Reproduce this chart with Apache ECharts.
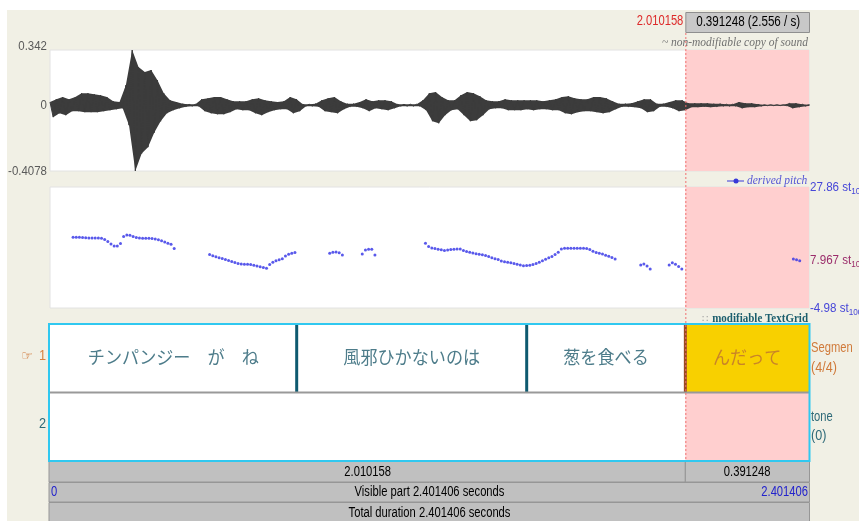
<!DOCTYPE html>
<html><head><meta charset="utf-8">
<script src="https://cdn.jsdelivr.net/npm/echarts@6/dist/echarts.min.js"></script>
<style>
html,body{margin:0;padding:0;background:#fff;}
#c{width:859px;height:521px;background:#f1f0e5;box-shadow:inset 7px 10px 0 #fff;}
</style>
</head><body><div id="c"></div>
<script>
// ---------- data ----------
const totalDuration = 2.401406;
const cursorTime = 2.010158;
const selStart = 2.010158;
const selEnd = 2.401406;

// waveform envelope (max / min per 0.02 s bin)
const waveStep = 0.02;
const waveMax = [0.019,0.037,0.050,0.037,0.050,0.074,0.074,0.068,0.062,0.050,
 0.025,0.019,0.124,0.342,0.236,0.205,0.218,0.155,0.074,0.031,
 0.019,0.009,0.006,0.006,0.037,0.043,0.050,0.050,0.037,0.025,
 0.025,0.025,0.037,0.043,0.031,0.025,0.019,0.025,0.050,0.037,
 0.006,0.006,0.009,0.031,0.043,0.050,0.025,0.009,0.009,0.019,
 0.037,0.025,0.031,0.031,0.025,0.006,0.006,0.006,0.006,0.031,
 0.074,0.081,0.050,0.031,0.031,0.062,0.081,0.074,0.056,0.031,
 0.025,0.025,0.037,0.031,0.031,0.031,0.031,0.031,0.025,0.031,
 0.037,0.050,0.056,0.043,0.037,0.037,0.050,0.050,0.043,0.025,
 0.009,0.009,0.012,0.025,0.037,0.037,0.009,0.009,0.019,0.031,
 0.031,0.012,0.012,0.012,0.012,0.009,0.009,0.006,0.006,0.019,
 0.012,0.012,0.006,0.003,0.003,0.003,0.003,0.012,0.012,0.006,
 0.003];
const waveMin = [-0.074,-0.050,-0.062,-0.037,-0.037,-0.043,-0.043,-0.043,-0.037,-0.031,
 -0.025,-0.019,-0.124,-0.4078,-0.300,-0.260,-0.170,-0.100,-0.050,-0.031,
 -0.019,-0.009,-0.006,-0.006,-0.037,-0.050,-0.056,-0.056,-0.043,-0.025,
 -0.031,-0.031,-0.050,-0.062,-0.043,-0.031,-0.025,-0.025,-0.050,-0.037,
 -0.006,-0.006,-0.009,-0.037,-0.043,-0.050,-0.025,-0.009,-0.009,-0.019,
 -0.037,-0.019,-0.025,-0.031,-0.019,-0.006,-0.006,-0.006,-0.006,-0.031,
 -0.099,-0.112,-0.062,-0.031,-0.025,-0.062,-0.099,-0.093,-0.062,-0.025,
 -0.019,-0.019,-0.031,-0.031,-0.031,-0.025,-0.031,-0.025,-0.025,-0.031,
 -0.031,-0.050,-0.056,-0.043,-0.037,-0.037,-0.043,-0.050,-0.043,-0.025,
 -0.009,-0.009,-0.012,-0.019,-0.043,-0.037,-0.009,-0.009,-0.019,-0.037,
 -0.031,-0.012,-0.012,-0.009,-0.012,-0.009,-0.006,-0.006,-0.006,-0.019,
 -0.012,-0.012,-0.006,-0.003,-0.003,-0.003,-0.003,-0.019,-0.012,-0.006,
 -0.003];
const waveTicks = [0.342, 0, -0.4078];
const waveTickLabels = ['0.342', '0', '-0.4078'];

// pitch (semitones re 100 Hz), voiced stretches, 0.01 s frames
const pitchStep = 0.01;
const pitchStarts = [0.073, 0.505, 0.885, 0.988, 1.188, 1.869, 1.959, 2.352];
const pitchA = [14.21,14.21,14.21,14.15,14.07,14.02,14.02,14.02,14.02,13.94,13.61,13.07,12.39,11.85,11.85,12.53,14.43,14.83,14.75,14.43,14.15,14.02,13.94,13.94,13.94,13.88,13.75,13.53,13.26,12.93,12.61,12.31,11.2];
const pitchB = [9.54,9.19,8.92,8.64,8.43,8.18,7.88,7.61,7.34,7.12,6.96,6.88,6.88,6.85,6.64,6.42,6.20,5.98,5.79,6.83,7.42,7.83,8.10,8.37,9.13,9.59,9.87,10.08];
const pitchC = [9.87,10.14,10.22,10.03,9.40];
const pitchD = [9.68,10.76,10.95,10.95,9.40];
const pitchE = [12.58,11.71,11.33,11.14,10.98,10.82,10.63,10.76,10.90,10.95,11.03,11.03,10.65,10.35,10.16,9.95,9.73,9.62,9.49,9.27,9.00,8.67,8.40,8.16,7.75,7.56,7.42,7.32,7.07,6.88,6.66,6.50,6.53,6.64,6.80,7.10,7.45,7.86,8.24,8.64,9.00,9.51,10.14,11.03,11.22,11.22,11.22,11.22,11.22,11.22,11.22,11.17,10.90,10.44,10.08,9.87,9.68,9.35,9.05,8.73,8.32];
const pitchF = [6.69,6.96,6.42,5.61];
const pitchG = [6.69,7.29,6.91,6.28,5.61];
const pitchH = [8.32,8.13,7.86];
const pitchSegments = [pitchA, pitchB, pitchC, pitchD, pitchE, pitchF, pitchG, pitchH];
const pitchTicks = [27.86, 7.967, -4.98];
const pitchTickLabels = ['27.86 st', '7.967 st', '-4.98 st'];

// TextGrid
const tier1Bounds = [0, 0.7805, 1.5082, 2.010158, 2.401406];
const tier1Labels = ['チンパンジー　が　ね', '風邪ひかないのは', '葱を食べる', 'んだって'];
const selectedInterval = 3;
const tierNames = ['Segmen', 'tone'];
const tierCounts = ['(4/4)', '(0)'];

// ---------- build ----------
const waveData = [];
waveMax.forEach((mx, i) => {
  waveData.push([i * waveStep, mx]);
  waveData.push([i * waveStep + waveStep / 2, waveMin[i]]);
});
const pitchData = [];
pitchSegments.forEach((seg, s) => seg.forEach((v, k) => pitchData.push([pitchStarts[s] + k * pitchStep, v])));
const tier1Data = tier1Labels.map((l, i) => [tier1Bounds[i], tier1Bounds[i + 1], 0]);
const boundaryData = tier1Bounds.slice(1, -1).map(b => [b, 0]);

const SANS = '"Liberation Sans", Arial, sans-serif';
const SERIF = '"Liberation Serif", "Times New Roman", serif';
const JP = '"Noto Sans CJK JP", sans-serif';
const PINK = '#ffcfcf';
const WAVE = '#3c3c3c';

function selRect(params, api) {
  const cs = params.coordSys;
  const x0 = api.coord([api.value(0), 0])[0];
  const x1 = api.coord([api.value(1), 0])[0];
  return { type: 'rect', shape: { x: x0, y: cs.y, width: x1 - x0, height: cs.height }, style: { fill: PINK } };
}

const chart = echarts.init(document.getElementById('c'), null, { renderer: 'canvas' });
const option = {
  animation: false,
  grid: [
    { left: 50, right: 50, top: 50, height: 121, show: true, backgroundColor: '#fff', borderColor: '#e2e2e2', borderWidth: 1 },
    { left: 50, right: 50, top: 187, height: 121, show: true, backgroundColor: '#fff', borderColor: '#e2e2e2', borderWidth: 1 },
    { left: 50, right: 50, top: 324, height: 137, show: false }
  ],
  xAxis: [0, 1, 2].map(i => ({ gridIndex: i, type: 'value', min: 0, max: totalDuration, show: false })),
  yAxis: [
    { gridIndex: 0, type: 'value', min: -0.4078, max: 0.342, show: false },
    { gridIndex: 1, type: 'value', min: -4.98, max: 27.86, show: false },
    { gridIndex: 2, type: 'value', min: 0, max: 2, inverse: true, show: false }
  ],
  series: [
    { type: 'custom', xAxisIndex: 0, yAxisIndex: 0, data: [[selStart, selEnd]], renderItem: selRect, z: 1, silent: true },
    { type: 'custom', xAxisIndex: 0, yAxisIndex: 0, data: [[0]], z: 2, silent: true, clip: true,
      renderItem(params, api) {
        const pts = [];
        waveMax.forEach((v, i) => pts.push(api.coord([i * waveStep, v])));
        for (let i = waveMin.length - 1; i >= 0; i--) pts.push(api.coord([i * waveStep + waveStep / 2, waveMin[i]]));
        return { type: 'polygon', shape: { points: pts }, style: { fill: WAVE } };
      } },
    { type: 'line', xAxisIndex: 0, yAxisIndex: 0, data: waveData, symbol: 'none', z: 3, silent: true,
      lineStyle: { color: WAVE, width: 1 } },
    { type: 'custom', xAxisIndex: 1, yAxisIndex: 1, data: [[selStart, selEnd]], renderItem: selRect, z: 1, silent: true },
    { type: 'scatter', xAxisIndex: 1, yAxisIndex: 1, data: pitchData, symbol: 'circle', symbolSize: 3, z: 3, silent: true,
      itemStyle: { color: '#3030e6' } },
    { type: 'custom', xAxisIndex: 2, yAxisIndex: 2, data: tier1Data, z: 3, silent: true,
      renderItem(params, api) {
        const s = api.coord([api.value(0), api.value(2)]);
        const e = api.coord([api.value(1), api.value(2) + 1]);
        const sel = params.dataIndex === selectedInterval;
        return { type: 'group', children: [
          { type: 'rect', shape: { x: s[0], y: s[1], width: e[0] - s[0], height: e[1] - s[1] }, style: { fill: sel ? '#f8d000' : '#fff' } },
          { type: 'text', x: (s[0] + e[0]) / 2, y: (s[1] + e[1]) / 2 - 1, scaleX: 0.95,
            style: { text: tier1Labels[params.dataIndex], fill: sel ? '#c98428' : '#4d7c8a', font: '18px ' + JP,
              align: 'center', verticalAlign: 'middle', textAlign: 'center', textVerticalAlign: 'middle' } }
        ] };
      } },
    { type: 'custom', xAxisIndex: 2, yAxisIndex: 2, data: [[0, totalDuration, 1]], z: 3, silent: true,
      renderItem(params, api) {
        const s = api.coord([api.value(0), api.value(2)]);
        const e = api.coord([api.value(1), api.value(2) + 1]);
        return { type: 'rect', shape: { x: s[0], y: s[1], width: e[0] - s[0], height: e[1] - s[1] }, style: { fill: '#fff' } };
      } },
    { type: 'custom', xAxisIndex: 2, yAxisIndex: 2, data: [[selStart, selEnd, 1]], z: 4, silent: true,
      renderItem(params, api) {
        const s = api.coord([api.value(0), api.value(2)]);
        const e = api.coord([api.value(1), api.value(2) + 1]);
        return { type: 'rect', shape: { x: s[0], y: s[1], width: e[0] - s[0], height: e[1] - s[1] }, style: { fill: PINK } };
      } },
    { type: 'custom', xAxisIndex: 2, yAxisIndex: 2, data: boundaryData, z: 5, silent: true,
      renderItem(params, api) {
        const a = api.coord([api.value(0), 0]);
        const b = api.coord([api.value(0), 1]);
        const isSel = Math.abs(api.value(0) - cursorTime) < 1e-6;
        return { type: 'line', shape: { x1: a[0], y1: a[1], x2: b[0], y2: b[1] },
          style: { stroke: isSel ? '#9a4a22' : '#0e5a70', lineWidth: 3 } };
      } }
  ]
};
chart.setOption(option);

// ---------- decorations placed through the axes ----------
const P = (g, t, v) => chart.convertToPixel({ gridIndex: g }, [t, v]);
function T(x, y, text, o) {
  o = o || {};
  const al = o.align || 'center', va = o.va || 'middle';
  return { type: 'text', x, y, z: 100, silent: true, scaleX: o.sx != null ? o.sx : 0.8,
    style: { text, fill: o.color || '#000', font: o.font || ('14px ' + SANS),
      align: al, verticalAlign: va, textAlign: al, textVerticalAlign: va, rich: o.rich } };
}
const xs = P(0, 0, 0)[0], xe = P(0, totalDuration, 0)[0], xc = P(0, cursorTime, 0)[0];
const tgTop = P(2, 0, 0)[1], tgMid = P(2, 0, 1)[1], tgBot = P(2, 0, 2)[1];
const g = [];

// top bar
g.push(T(xc - 2, 21, cursorTime.toFixed(6), { align: 'right', color: '#dd2a2a' }));
g.push({ type: 'rect', z: 99, shape: { x: xc + 0.5, y: 12.5, width: xe - xc, height: 20 }, style: { fill: '#c8c8c8', stroke: '#8f8f8f', lineWidth: 1 } });
g.push(T((xc + xe) / 2 + 1, 22.5, (selEnd - selStart).toFixed(6) + ' (' + (1 / (selEnd - selStart)).toFixed(3) + ' / s)', { sx: 0.83 }));
g.push(T(xe - 1, 43, '~ non-modifiable copy of sound', { align: 'right', color: '#707070', font: 'italic 12.5px ' + SERIF, sx: 0.92 }));

// waveform ticks
waveTicks.forEach((v, i) => {
  const y = P(0, 0, v)[1] + (i === 0 ? -4 : 0);
  g.push(T(47, y, waveTickLabels[i], { align: 'right', color: '#5a5a5a', sx: 0.85, font: '13.5px ' + SANS }));
});

// pitch legend + ticks
g.push({ type: 'line', z: 100, shape: { x1: 727, y1: 181, x2: 744, y2: 181 }, style: { stroke: '#3838d8', lineWidth: 1 } });
g.push({ type: 'circle', z: 100, shape: { cx: 736, cy: 181, r: 2.5 }, style: { fill: '#3838d8' } });
g.push(T(747, 181, 'derived pitch', { align: 'left', color: '#5555d5', font: 'italic 12.5px ' + SERIF, sx: 0.92 }));
pitchTicks.forEach((v, i) => {
  const y = P(1, 0, v)[1];
  const col = i === 1 ? '#9b2d6b' : '#4646d8';
  g.push(T(810, y, '{a|' + pitchTickLabels[i] + '}{b|100}', { align: 'left', sx: 0.86, color: col,
    rich: { a: { fontSize: 13.5, fontFamily: 'Liberation Sans', fill: col, color: col, lineHeight: 18, verticalAlign: 'middle' },
            b: { fontSize: 9.5, fontFamily: 'Liberation Sans', fill: col, color: col, lineHeight: 18, verticalAlign: 'bottom' } } }));
});

// TextGrid frame
g.push(T(705, 319, '∷', { color: '#a0a0a0', font: '10px "DejaVu Sans"', sx: 1 }));
g.push(T(xe - 1, 319, 'modifiable TextGrid', { align: 'right', color: '#1d5f6e', font: 'bold 12.5px ' + SERIF, sx: 0.88 }));
g.push({ type: 'line', z: 101, shape: { x1: xs - 1, y1: tgMid, x2: xe, y2: tgMid }, style: { stroke: '#999', lineWidth: 2 } });
g.push({ type: 'rect', z: 102, shape: { x: xs - 1, y: tgTop, width: xe - xs + 1.5, height: tgBot - tgTop }, style: { fill: null, stroke: '#30c8f0', lineWidth: 2 } });
g.push(T(33, (tgTop + tgMid) / 2 - 2, '☞', { align: 'right', color: '#d07434', font: '13px "DejaVu Sans"', sx: 1 }));
g.push(T(46, (tgTop + tgMid) / 2 - 2, '1', { align: 'right', color: '#d8803e', font: '15px ' + SANS, sx: 0.85 }));
g.push(T(46, (tgMid + tgBot) / 2 - 3, '2', { align: 'right', color: '#2e6a78', font: '15px ' + SANS, sx: 0.85 }));
g.push(T(811, (tgTop + tgMid) / 2 - 10, tierNames[0], { align: 'left', color: '#d07a3a' }));
g.push(T(811, (tgTop + tgMid) / 2 + 10, tierCounts[0], { align: 'left', color: '#d07a3a', sx: 0.9 }));
g.push(T(811, (tgMid + tgBot) / 2 - 10, tierNames[1], { align: 'left', color: '#2e6a78' }));
g.push(T(811, (tgMid + tgBot) / 2 + 9, tierCounts[1], { align: 'left', color: '#2e6a78', sx: 0.9 }));

// bottom bars
const barFill = '#c0c0c0', barLine = '#969696';
g.push({ type: 'rect', z: 99, shape: { x: xs - 1, y: 461.5, width: xc - xs + 1, height: 20.5 }, style: { fill: barFill, stroke: barLine, lineWidth: 1 } });
g.push({ type: 'rect', z: 99, shape: { x: xc, y: 461.5, width: xe - xc + 0.5, height: 20.5 }, style: { fill: barFill, stroke: barLine, lineWidth: 1 } });
g.push({ type: 'rect', z: 99, shape: { x: xs - 1, y: 482.5, width: xe - xs + 1.5, height: 19.5 }, style: { fill: barFill, stroke: barLine, lineWidth: 1 } });
g.push({ type: 'rect', z: 99, shape: { x: xs - 1, y: 502.5, width: xe - xs + 1.5, height: 22 }, style: { fill: barFill, stroke: barLine, lineWidth: 1 } });
g.push(T((xs + xc) / 2, 472.5, cursorTime.toFixed(6)));
g.push(T((xc + xe) / 2, 472.5, (selEnd - selStart).toFixed(6)));
g.push(T(xs + 1, 492.5, '0', { align: 'left', color: '#2222cc' }));
g.push(T((xs + xe) / 2, 492.5, 'Visible part ' + totalDuration.toFixed(6) + ' seconds'));
g.push(T(xe - 1, 492.5, totalDuration.toFixed(6), { align: 'right', color: '#2222cc' }));
g.push(T((xs + xe) / 2, 513, 'Total duration ' + totalDuration.toFixed(6) + ' seconds'));

// cursor
g.push({ type: 'line', z: 110, shape: { x1: xc + 0.5, y1: 33, x2: xc + 0.5, y2: tgBot }, style: { stroke: '#f07070', lineWidth: 1, lineDash: [2, 2] } });

chart.setOption({ graphic: { elements: g } });
</script></body></html>
